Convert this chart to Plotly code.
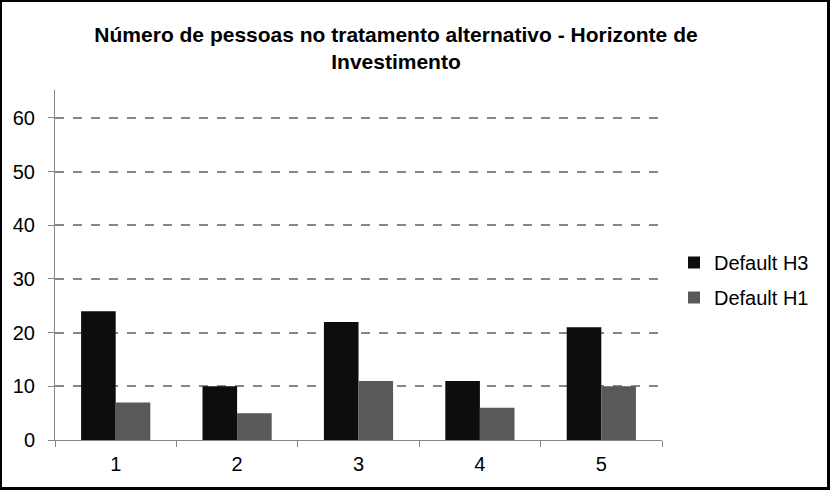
import plotly.graph_objects as go

# dados
categorias = ["1", "2", "3", "4", "5"]
default_h3 = [24, 10, 22, 11, 21]
default_h1 = [7, 5, 11, 6, 10]
titulo = "Número de pessoas no tratamento alternativo - Horizonte de<br>Investimento"

# área do gráfico em pixels
W, H = 830, 490
X0, X1 = 55, 662
Y0, Y1 = 90, 440


def px(x):
    return (x - X0) / (X1 - X0)


def py(y):
    return (Y1 - y) / (Y1 - Y0)


fig = go.Figure()
fig.add_trace(go.Bar(x=categorias, y=default_h3, name="Default H3", legendgroup="h3",
                     marker=dict(color="#0d0d0d", line=dict(width=0))))
fig.add_trace(go.Bar(x=categorias, y=default_h1, name="Default H1", legendgroup="h1",
                     marker=dict(color="#595959", line=dict(width=0))))

fig.update_layout(
    width=W,
    height=H,
    margin=dict(l=X0, r=W - X1, t=Y0, b=H - Y1, pad=0),
    paper_bgcolor="white",
    plot_bgcolor="white",
    font=dict(family="Liberation Sans, Arial, sans-serif", size=20, color="black"),
    barmode="group",
    bargap=0.43,
    bargroupgap=0,
    title=dict(
        text="<b>" + titulo + "</b>",
        x=px(396),
        xref="paper",
        xanchor="center",
        y=1 - 42 / H,
        yanchor="middle",
        font=dict(size=21, color="black"),
    ),
    legend=dict(
        x=px(674),
        y=py(243),
        xanchor="left",
        yanchor="top",
        font=dict(size=20),
        itemwidth=30,
        traceorder="grouped",
        tracegroupgap=6,
    ),
    showlegend=True,
)

fig.update_xaxes(
    type="category",
    showline=True,
    linecolor="#868686",
    linewidth=1,
    ticks="outside",
    tickson="boundaries",
    ticklen=6,
    tickcolor="#868686",
    showgrid=False,
    ticklabelstandoff=6,
)
fig.update_yaxes(
    range=[0, 65.2],
    tickvals=[0, 10, 20, 30, 40, 50, 60],
    showline=True,
    linecolor="#868686",
    linewidth=1,
    ticks="outside",
    ticklen=6,
    tickcolor="#868686",
    showgrid=True,
    gridcolor="#878787",
    gridwidth=2,
    griddash="dash",
    zeroline=False,
    ticklabelstandoff=9,
)

# moldura preta em volta da figura
fig.add_shape(
    type="rect",
    xref="paper",
    yref="paper",
    x0=px(0.5),
    x1=px(828.5),
    y0=py(0.5),
    y1=py(488.5),
    line=dict(color="black", width=3),
    fillcolor="rgba(0,0,0,0)",
    layer="above",
)

# sem margem do body para a figura ficar em (0, 0)
fig.write_html(
    "out.html",
    config={"displayModeBar": False},
    post_script="document.body.style.margin='0';",
)
